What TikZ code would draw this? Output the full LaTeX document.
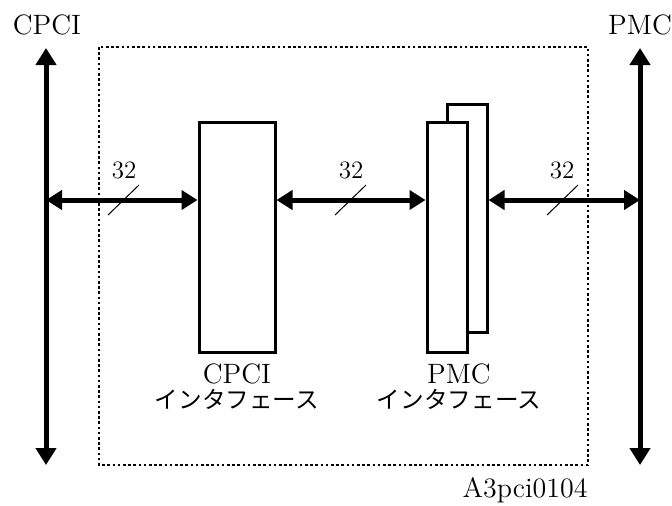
\documentclass[tikz,border=0pt]{standalone}
\usepackage{fontspec}
\usepackage{tikz}
\usetikzlibrary{arrows.meta}
\newfontfamily\jpfont{Noto Sans CJK JP}
\tikzstyle{block}=[draw,line width=1.5pt,fill=white,inner sep=0pt,minimum width=38pt]
\tikzstyle{card}=[block,minimum width=20pt]
\tikzstyle{bus}=[line width=2.5pt,{Triangle[length=8.5pt,width=10pt]}-{Triangle[length=8.5pt,width=10pt]}]
\tikzstyle{link}=[line width=2.5pt,{Triangle[length=8pt,width=9.5pt]}-{Triangle[length=8pt,width=9.5pt]}]
\tikzstyle{slash}=[line width=0.5pt]
\tikzstyle{lbl}=[inner sep=0pt,font=\fontsize{14}{16}\selectfont]
\tikzstyle{width}=[inner sep=0pt,font=\fontsize{12.5}{14}\selectfont]

\begin{document}
\begin{tikzpicture}[x=0.5pt,y=-0.5pt]
      \useasboundingbox (0,0) rectangle (672,505);
      % board outline
      \draw[line width=0.8pt,dash pattern=on 1.3pt off 1.3pt] (99,47) rectangle (588,465);
      % buses
      \coordinate (cpcitop) at (46,48);
      \coordinate (cpcibot) at (46,465);
      \coordinate (pmctop) at (640,48);
      \coordinate (pmcbot) at (640,465);
      \draw[bus] (cpcitop) -- (cpcibot);
      \draw[bus] (pmctop) -- (pmcbot);
      \node[lbl] (cpcilabel) at (47,25) {CPCI};
      \node[lbl] (pmclabel) at (640,25) {PMC};
      % interfaces
      \node[block,minimum height=115pt] (cpcibox) at (237,237) {};
      \node[card,minimum height=114pt] (pmcback) at (467,218) {};
      \node[card,minimum height=115pt] (pmcfront) at (447,237) {};
      \node[lbl] (cpciname) at (237,374) {CPCI};
      \node[lbl] (cpcijp) at (237,399) {\jpfont\fontsize{11.8}{14}\selectfont インタフェース};
      \node[lbl] (pmcname) at (459,374) {PMC};
      \node[lbl] (pmcjp) at (459,399) {\jpfont\fontsize{11.8}{14}\selectfont インタフェース};
      % links
      \coordinate (l1) at (46,200);
      \coordinate (l3) at (640,200);
      \draw[link] (l1) -- (l1 -| cpcibox.west);
      \draw[link] (cpcibox.east |- l1) -- (l1 -| pmcfront.west);
      \draw[link] (pmcback.east |- l1) -- (l3);
      % bus width marks
      \draw[slash] (108,215) -- (139,185);
      \draw[slash] (335,215) -- (366,185);
      \draw[slash] (547,215) -- (578,185);
      \node[width] (w1) at (124,170) {32};
      \node[width] (w2) at (351,170) {32};
      \node[width] (w3) at (562,170) {32};
      \node[lbl,anchor=east] (figid) at (588,490) {A3pci0104};
  \end{tikzpicture}
\end{document}
